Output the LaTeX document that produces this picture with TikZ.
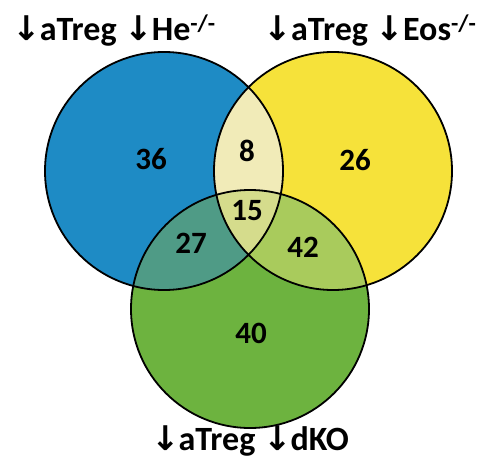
\documentclass[tikz,border=0pt]{standalone}
\usepackage{fontspec}
\setmainfont{Carlito}
\newfontfamily\arrowfont{DejaVu Sans}
\definecolor{cblue}{HTML}{1E8BC5}
\definecolor{cyellow}{HTML}{F6E23A}
\definecolor{cgreen}{HTML}{6DB33F}
\definecolor{cby}{HTML}{F1EBB8}
\definecolor{cbg}{HTML}{4F9B86}
\definecolor{cyg}{HTML}{A9CB5C}
\definecolor{call}{HTML}{D5DC8C}
\newcommand{\dn}{{\arrowfont\bfseries ↓}\kern-1pt}
\begin{document}
\begin{tikzpicture}[x=1pt,y=-1pt,
  lbl/.style={font=\fontsize{34}{38}\selectfont\bfseries, inner sep=0pt},
  num/.style={font=\fontsize{31}{34}\selectfont\bfseries, inner sep=0pt},
  ring/.style={draw=black, line width=1.8pt}]
\useasboundingbox (0,0) rectangle (486,468);
\def\rr{119}
\coordinate (B) at (164,171);
\coordinate (Y) at (333,171);
\coordinate (G) at (250,309);
\fill[cblue] (B) circle (\rr);
\fill[cyellow] (Y) circle (\rr);
\fill[cgreen] (G) circle (\rr);
\begin{scope}\clip (B) circle (\rr); \fill[cby] (Y) circle (\rr); \fill[cbg] (G) circle (\rr);\end{scope}
\begin{scope}\clip (Y) circle (\rr); \fill[cyg] (G) circle (\rr);\end{scope}
\begin{scope}\clip (B) circle (\rr); \clip (Y) circle (\rr); \fill[call] (G) circle (\rr);\end{scope}
\draw[ring] (B) circle (\rr);
\draw[ring] (Y) circle (\rr);
\draw[ring] (G) circle (\rr);
\node[num] (n36) at (151,159) {36};
\node[num] (n8) at (247,151) {8};
\node[num] (n26) at (355,160) {26};
\node[num] (n15) at (247,211) {15};
\node[num] (n27) at (191,243) {27};
\node[num] (n42) at (303,247) {42};
\node[num] (n40) at (251,333) {40};
\node[lbl] (lh) at (114,31) {\dn aTreg \dn He\textsuperscript{-/-}};
\node[lbl] (le) at (370,31) {\dn aTreg \dn Eos\textsuperscript{-/-}};
\node[lbl] (ld) at (250,441) {\dn aTreg \dn dKO};
\end{tikzpicture}
\end{document}
